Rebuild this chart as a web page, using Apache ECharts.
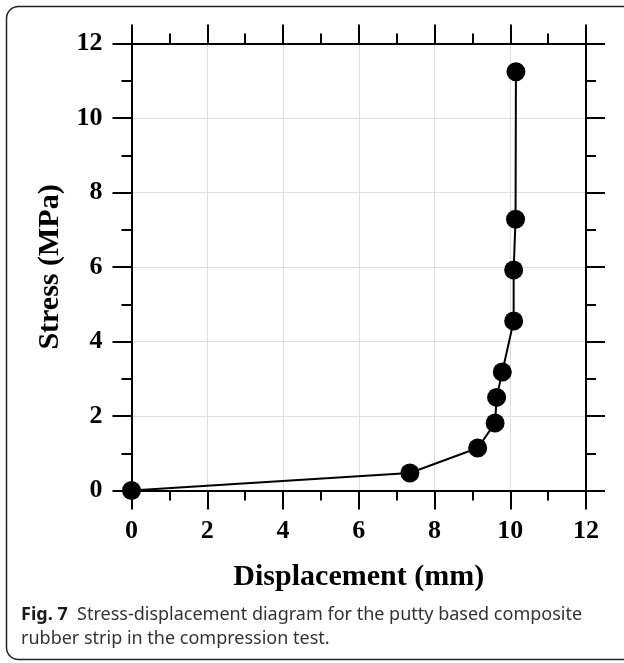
<!DOCTYPE html>
<html lang="en">
<head>
    <meta charset="UTF-8">
    <title>Stress-displacement</title>
    <script src="https://cdn.jsdelivr.net/npm/echarts@6/dist/echarts.min.js"></script>
    <style>
        html, body { margin: 0; padding: 0; background: #fff; }
    </style>
</head>
<body>
<div id="main" style="width: 624px;height:663px;"></div>
<script type="text/javascript">
    // data
    var displacement = [0, 7.35, 9.14, 9.60, 9.64, 9.79, 10.09, 10.09, 10.14, 10.15];
    var stress = [0, 0.47, 1.14, 1.81, 2.50, 3.18, 4.55, 5.92, 7.28, 11.24];
    var xTicks = [0, 2, 4, 6, 8, 10, 12];
    var yTicks = [0, 2, 4, 6, 8, 10, 12];
    var captionBold = 'Fig. 7';
    var captionLines = [
        'Stress-displacement diagram for the putty based composite',
        'rubber strip in the compression test.'
    ];

    var serif = '"Liberation Serif", "DejaVu Serif", serif';
    var black = '#000';

    // shared axis look, every side gets outward ticks
    function axisBase(showLabel) {
        return {
            min: xTicks[0],
            max: xTicks[xTicks.length - 1],
            interval: 2,
            axisLine: { show: true, onZero: false, lineStyle: { color: black, width: 2 } },
            axisTick: { show: true, inside: false, length: 19, lineStyle: { color: black, width: 2 } },
            minorTick: { show: true, splitNumber: 2, length: 10, lineStyle: { color: black, width: 2 } },
            axisLabel: {
                show: showLabel,
                color: black,
                fontFamily: serif,
                fontWeight: 'bold',
                fontSize: 26
            },
            splitLine: { show: false }
        };
    }

    var xBottom = axisBase(true);
    xBottom.type = 'value';
    xBottom.position = 'bottom';
    xBottom.name = 'Displacement (mm)';
    xBottom.nameLocation = 'middle';
    xBottom.nameGap = 72;
    xBottom.nameTextStyle = { color: black, fontFamily: serif, fontWeight: 'bold', fontSize: 30 };
    xBottom.axisLabel.margin = 28;
    xBottom.splitLine = { show: true, lineStyle: { color: '#dedede', width: 1 } };

    var xTop = axisBase(false);
    xTop.type = 'value';
    xTop.position = 'top';

    var yLeft = axisBase(true);
    yLeft.type = 'value';
    yLeft.position = 'left';
    yLeft.min = yTicks[0];
    yLeft.max = yTicks[yTicks.length - 1];
    yLeft.name = 'Stress (MPa)';
    yLeft.nameLocation = 'middle';
    yLeft.nameRotate = 90;
    yLeft.nameGap = 66;
    yLeft.nameTextStyle = { color: black, fontFamily: serif, fontWeight: 'bold', fontSize: 30 };
    yLeft.axisLabel.margin = 29;
    yLeft.splitLine = { show: true, lineStyle: { color: '#dedede', width: 1 } };

    var yRight = axisBase(false);
    yRight.type = 'value';
    yRight.position = 'right';
    yRight.min = yTicks[0];
    yRight.max = yTicks[yTicks.length - 1];

    var points = [];
    for (var i = 0; i < displacement.length; i++) {
        points.push([displacement[i], stress[i]]);
    }

    var myChart = echarts.init(document.getElementById('main'));
    myChart.setOption({
        animation: false,
        grid: { left: 131.5, right: 38, top: 43.5, bottom: 172.5, containLabel: false },
        xAxis: [xBottom, xTop],
        yAxis: [yLeft, yRight],
        series: [{
            type: 'line',
            data: points,
            xAxisIndex: 0,
            yAxisIndex: 0,
            symbol: 'circle',
            symbolSize: 19,
            showAllSymbol: true,
            itemStyle: { color: black },
            lineStyle: { color: black, width: 2 },
            z: 5
        }],
        graphic: [
            {
                // rounded frame round the figure
                type: 'rect',
                shape: { x: 6.5, y: 6.5, width: 640, height: 653, r: 12 },
                style: { fill: null, stroke: '#222', lineWidth: 1.5 },
                silent: true
            },
            {
                type: 'text',
                left: 21,
                top: 606,
                style: {
                    text: '{b|' + captionBold + '}  ' + captionLines[0],
                    fill: '#333',
                    font: '18px "Noto Sans", "Open Sans", sans-serif',
                    rich: {
                        b: { fontWeight: 'bold', fontSize: 18, fontFamily: '"Noto Sans", sans-serif', fill: '#1a1a1a' }
                    }
                }
            },
            {
                type: 'text',
                left: 21,
                top: 630,
                style: {
                    text: captionLines[1],
                    fill: '#333',
                    font: '18px "Noto Sans", "Open Sans", sans-serif'
                }
            }
        ]
    });
</script>
</body>
</html>
